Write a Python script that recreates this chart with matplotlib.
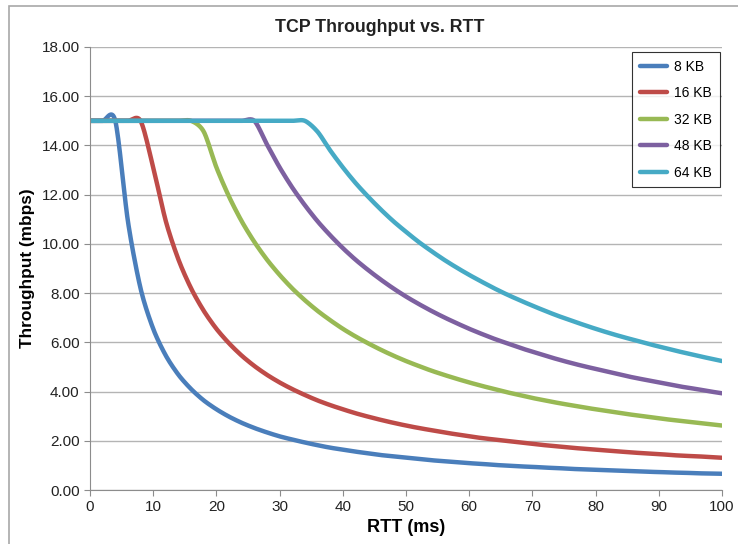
import matplotlib.pyplot as plt
import numpy as np
from matplotlib.patches import Rectangle

plt.rcParams['font.family'] = ['Liberation Sans', 'DejaVu Sans']

# RTT samples (ms), every 2 ms
rtt = list(range(0, 101, 2))

kb8 = [15.00, 15.00, 15.00, 10.92, 8.19, 6.55, 5.46, 4.68, 4.10, 3.64, 3.28,
       2.98, 2.73, 2.52, 2.34, 2.18, 2.05, 1.93, 1.82, 1.72, 1.64,
       1.56, 1.49, 1.42, 1.37, 1.31, 1.26, 1.21, 1.17, 1.13, 1.09,
       1.06, 1.02, 0.99, 0.96, 0.94, 0.91, 0.89, 0.86, 0.84, 0.82,
       0.80, 0.78, 0.76, 0.74, 0.73, 0.71, 0.70, 0.68, 0.67, 0.66]
kb16 = [15.00, 15.00, 15.00, 15.00, 15.00, 13.11, 10.92, 9.36, 8.19, 7.28, 6.55,
        5.96, 5.46, 5.04, 4.68, 4.37, 4.10, 3.86, 3.64, 3.45, 3.28,
        3.12, 2.98, 2.85, 2.73, 2.62, 2.52, 2.43, 2.34, 2.26, 2.18,
        2.11, 2.05, 1.99, 1.93, 1.87, 1.82, 1.77, 1.72, 1.68, 1.64,
        1.60, 1.56, 1.52, 1.49, 1.46, 1.42, 1.39, 1.37, 1.34, 1.31]
kb32 = [15.00, 15.00, 15.00, 15.00, 15.00, 15.00, 15.00, 15.00, 15.00, 14.56, 13.11,
        11.92, 10.92, 10.08, 9.36, 8.74, 8.19, 7.71, 7.28, 6.90, 6.55,
        6.24, 5.96, 5.70, 5.46, 5.24, 5.04, 4.85, 4.68, 4.52, 4.37,
        4.23, 4.10, 3.97, 3.86, 3.74, 3.64, 3.54, 3.45, 3.36, 3.28,
        3.20, 3.12, 3.05, 2.98, 2.91, 2.85, 2.79, 2.73, 2.67, 2.62]
kb48 = [15.00, 15.00, 15.00, 15.00, 15.00, 15.00, 15.00, 15.00, 15.00, 15.00, 15.00,
        15.00, 15.00, 15.00, 14.04, 13.11, 12.29, 11.57, 10.92, 10.35, 9.83,
        9.36, 8.94, 8.55, 8.19, 7.86, 7.56, 7.28, 7.02, 6.78, 6.55,
        6.34, 6.14, 5.96, 5.78, 5.62, 5.46, 5.31, 5.17, 5.04, 4.92,
        4.80, 4.68, 4.57, 4.47, 4.37, 4.27, 4.18, 4.10, 4.01, 3.93]
kb64 = [15.00, 15.00, 15.00, 15.00, 15.00, 15.00, 15.00, 15.00, 15.00, 15.00, 15.00,
        15.00, 15.00, 15.00, 15.00, 15.00, 15.00, 15.00, 14.56, 13.80, 13.11,
        12.48, 11.92, 11.40, 10.92, 10.49, 10.08, 9.71, 9.36, 9.04, 8.74,
        8.46, 8.19, 7.94, 7.71, 7.49, 7.28, 7.08, 6.90, 6.72, 6.55,
        6.39, 6.24, 6.10, 5.96, 5.83, 5.70, 5.58, 5.46, 5.35, 5.24]

labels = ['8 KB', '16 KB', '32 KB', '48 KB', '64 KB']
colors = ['#4A7EBB', '#BE4B48', '#98B954', '#7D60A0', '#46AAC5']
series = [kb8, kb16, kb32, kb48, kb64]


def smooth(x, y, steps=16, tension=0.85):
    # Excel-style smoothed line (Hermite spline through the points)
    x = np.asarray(x, float)
    y = np.asarray(y, float)
    px = np.concatenate([[x[0]], x, [x[-1]]])
    py = np.concatenate([[y[0]], y, [y[-1]]])
    t = np.linspace(0, 1, steps, endpoint=False)
    h00 = 2 * t**3 - 3 * t**2 + 1
    h10 = t**3 - 2 * t**2 + t
    h01 = -2 * t**3 + 3 * t**2
    h11 = t**3 - t**2
    xs, ys = [], []
    for i in range(1, len(px) - 2):
        for p, out in ((px, xs), (py, ys)):
            m0 = (p[i + 1] - p[i - 1]) / 2 * tension
            m1 = (p[i + 2] - p[i]) / 2 * tension
            out.extend(h00 * p[i] + h10 * m0 + h01 * p[i + 1] + h11 * m1)
    xs.append(x[-1])
    ys.append(y[-1])
    return xs, ys


fig = plt.figure(figsize=(7.38, 5.44), dpi=100)
ax = fig.add_axes([90 / 738, 1 - 490 / 544, 632 / 738, 443 / 544])

for vals, lab, col in zip(series, labels, colors):
    sx, sy = smooth(rtt, vals)
    ax.plot(sx, sy, color=col, lw=3.2, label=lab, solid_capstyle='round')

ax.set_xlim(0, 100)
ax.set_ylim(0, 18)
ax.set_xticks(range(0, 101, 10))
ax.set_yticks(range(0, 19, 2))
ax.set_yticklabels([f'{v:.2f}' for v in range(0, 19, 2)])
ax.yaxis.grid(True, color='#b4b4b4', lw=1)
ax.set_axisbelow(True)
for s in ['top', 'right']:
    ax.spines[s].set_visible(False)
for s in ['left', 'bottom']:
    ax.spines[s].set_color('#8c8c8c')
ax.tick_params(colors='#8c8c8c', labelcolor='#222222', labelsize=11, length=4, direction='out')

ax.set_xlabel('RTT (ms)', fontsize=13, fontweight='bold', labelpad=3)
ax.set_ylabel('Throughput (mbps)', fontsize=12.4, fontweight='bold', labelpad=5)
fig.text(380 / 738, 1 - 28 / 544, 'TCP Throughput vs. RTT', ha='center', va='center',
         fontsize=12.8, fontweight='bold', color='#222222')

leg = ax.legend(loc='upper left', bbox_to_anchor=(632 / 738, 1 - 52 / 544),
                bbox_transform=fig.transFigure, fontsize=10, frameon=True,
                fancybox=False, edgecolor='black', handlelength=2.0,
                labelspacing=0.9, borderpad=0.55, handletextpad=0.5, borderaxespad=0)
leg.get_frame().set_linewidth(0.8)

fig.patches.append(Rectangle((9 / 738, -0.1), 1.2, 1 - 6 / 544 + 0.1, transform=fig.transFigure,
                             fill=False, edgecolor='#a8a8a8', lw=1.2))

fig.savefig('out.png', dpi=100)
